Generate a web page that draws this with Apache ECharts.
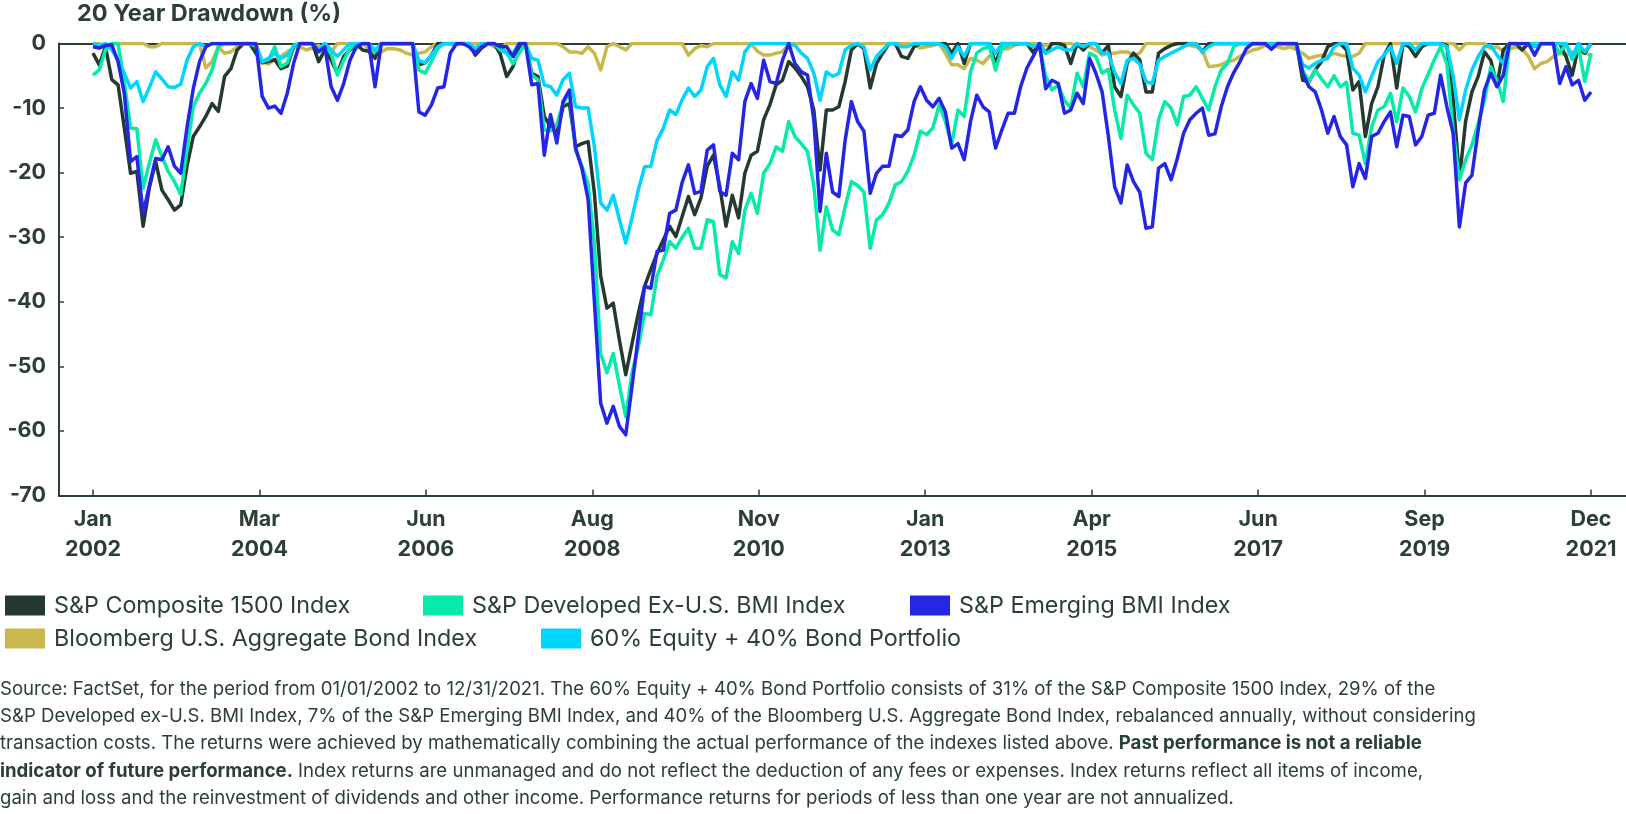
<!DOCTYPE html>
<html><head><meta charset="utf-8">
<script src="https://cdn.jsdelivr.net/npm/echarts@6/dist/echarts.min.js"></script>
<style>html,body{margin:0;padding:0;background:#fff}#c{width:1626px;height:814px}</style>
</head><body><div id="c"></div>
<script>
// ---- data (monthly drawdown %, Jan 2002 .. Dec 2021) ----
const tickLabels = ['Jan\n2002','Mar\n2004','Jun\n2006','Aug\n2008','Nov\n2010','Jan\n2013','Apr\n2015','Jun\n2017','Sep\n2019','Dec\n2021'];
const seriesNames = ['S&P Composite 1500 Index','S&P Developed Ex-U.S. BMI Index','S&P Emerging BMI Index','Bloomberg U.S. Aggregate Bond Index','60% Equity + 40% Bond Portfolio'];

const sp1500 = [
 -1.5,-3.3,-0.5,-5.6,-6.4,-13.1,-20.1,-19.8,-28.3,-22.3,-18.3,-22.7,
 -24.2,-25.8,-25.0,-19.0,-14.4,-12.9,-11.3,-9.3,-10.5,-5.1,-3.9,-1.0,
 0,0,-1.5,-3.0,-2.8,-2.5,-3.9,-3.5,-0.5,0,0,0,
 -2.8,-1.0,-2.6,-4.6,-2.0,-1.0,0,-1.0,-1.2,-2.3,0,0,
 0,0,0,0,-3.3,-3.0,-1.8,0,0,0,0,0,
 0,-1.8,-0.7,0,0,-1.7,-5.1,-3.6,-0.5,0,-4.6,-5.1,
 -11.3,-12.9,-13.9,-9.8,-9.3,-16.0,-15.5,-15.2,-23.2,-36.0,-41.0,-40.2,
 -46.0,-51.3,-46.5,-41.8,-37.6,-35.0,-32.5,-30.4,-28.3,-29.9,-26.8,-23.7,
 -26.5,-23.9,-19.0,-17.3,-22.2,-28.3,-23.5,-27.0,-20.1,-17.3,-16.7,-11.8,
 -9.5,-6.4,-5.7,-2.8,-3.8,-5.1,-6.7,-10.3,-19.6,-10.3,-10.3,-9.8,
 -5.9,-1.0,0,-0.8,-6.9,-3.1,-1.5,0,0,-2.0,-2.3,-0.5,
 0,0,0,0,0,-1.5,0,-3.1,0,0,0,0,
 -3.2,0,0,0,0,0,-1.4,0,-1.5,0,0,-0.3,
 -3.1,0,-1.0,0,0,-1.5,-0.3,-6.7,-8.2,-3.0,-1.5,-2.5,
 -7.5,-7.5,-1.5,-0.8,-0.3,0,0,0,0,-1.3,0,0,
 0,0,0,0,0,0,0,0,0,0,0,0,
 0,-5.7,-5.9,-4.1,-2.8,-0.5,0,0,-1.0,-7.2,-5.9,-14.4,
 -9.3,-6.7,-1.8,0,-6.9,0,-0.5,-2.0,-0.5,0,0,0,
 -0.3,-8.5,-21.0,-12.0,-7.5,-5.1,-1.3,-2.6,-6.4,-1.0,0,0,
 -1.0,0,0,0,0,0,0,-2.0,-4.9,-0.5,-1.5,0
];
const developedExUS = [
 -4.9,-4.1,-1.0,0,0,-6.0,-13.1,-13.2,-22.4,-18.5,-14.9,-17.5,
 -19.8,-21.4,-23.4,-16.5,-9.8,-7.7,-6.2,-4.1,-0.5,0,0,0,
 0,0,-0.5,-2.8,-2.5,-0.5,-3.6,-3.0,-0.3,0,0,0,
 -1.0,-0.5,-1.5,-4.9,-2.6,-0.8,0,0,0,-1.3,0,0,
 0,0,0,0,-4.1,-4.6,-2.8,-0.8,0,0,0,0,
 -0.3,-0.8,-0.3,0,0,-1.0,-1.5,-3.1,-1.5,0,-4.9,-5.6,
 -13.4,-13.5,-12.5,-9.3,-7.5,-16.5,-19.0,-21.7,-31.0,-48.0,-51.0,-48.0,
 -53.0,-57.8,-51.0,-47.0,-41.8,-42.0,-36.0,-33.5,-30.7,-31.7,-30.0,-28.6,
 -31.7,-31.7,-27.3,-27.6,-35.8,-36.3,-30.7,-32.5,-25.8,-23.2,-26.3,-20.1,
 -18.6,-16.0,-16.7,-12.1,-14.4,-15.5,-16.7,-22.0,-32.0,-25.3,-28.9,-29.6,
 -25.3,-21.4,-22.0,-23.0,-31.7,-27.3,-26.5,-24.7,-21.9,-21.4,-19.8,-17.3,
 -13.6,-14.1,-13.1,-9.5,-12.1,-15.7,-10.3,-11.3,-4.4,-1.5,-0.8,-0.5,
 -4.1,-0.8,-0.3,0,0,0,-0.3,-0.5,-5.0,-7.2,-6.4,-8.8,
 -10.0,-4.6,-6.7,-1.5,-2.0,-4.6,-4.0,-10.3,-14.7,-8.0,-9.5,-10.8,
 -17.0,-18.0,-11.8,-9.0,-10.0,-12.6,-8.2,-8.0,-6.7,-8.5,-10.3,-6.7,
 -4.1,-3.1,-0.5,0,0,0,0,0,0,0,0,0,
 -0.3,-4.1,-5.9,-4.1,-5.5,-6.7,-5.0,-6.7,-6.0,-13.9,-14.2,-18.6,
 -12.9,-10.3,-9.8,-7.7,-12.1,-6.9,-8.2,-10.6,-7.0,-4.8,-2.5,-0.5,
 -3.1,-13.4,-21.1,-18.0,-15.7,-12.4,-8.8,-3.6,-5.7,-9.0,0,0,
 0,0,0,0,0,0,-1.5,0,-2.5,-0.5,-5.9,-1.5
];
const emerging = [
 -0.5,-0.7,-0.3,-0.2,-2.8,-7.7,-18.3,-17.5,-26.3,-22.0,-17.8,-18.0,
 -16.0,-19.0,-20.1,-13.0,-7.0,-2.8,-0.5,0,0,0,0,0,
 0,0,0,-8.2,-10.0,-9.7,-10.8,-7.7,-3.1,0,0,0,
 -1.3,-0.5,-6.7,-8.8,-6.2,-2.6,-0.5,0,0,-6.7,0,0,
 0,0,0,0,-10.6,-11.1,-9.5,-6.9,-6.7,-1.5,0,0,
 -0.5,-1.5,-0.5,0,0,-0.5,-0.5,-2.0,0,0,-6.4,-6.2,
 -17.3,-11.0,-15.4,-9.0,-7.2,-16.2,-19.3,-24.2,-40.0,-55.7,-58.8,-56.2,
 -59.3,-60.6,-53.1,-45.4,-37.6,-37.9,-32.2,-32.0,-26.3,-25.8,-21.5,-18.8,
 -23.2,-22.9,-16.5,-15.7,-22.9,-23.5,-17.0,-18.0,-9.0,-6.2,-8.5,-2.6,
 -5.9,-6.2,-2.6,0,-3.1,-4.4,-4.9,-11.8,-26.0,-17.0,-23.0,-23.7,
 -15.0,-9.0,-12.1,-13.6,-23.2,-20.1,-19.0,-19.0,-14.2,-14.4,-13.4,-9.0,
 -6.7,-8.8,-9.8,-8.5,-10.6,-16.2,-15.5,-18.0,-12.1,-8.0,-9.8,-10.6,
 -16.2,-13.4,-10.8,-10.8,-6.7,-3.8,-2.0,0,-7.0,-5.7,-6.2,-10.8,
 -10.3,-7.7,-9.3,-2.3,-4.6,-7.5,-14.4,-22.2,-24.7,-18.8,-21.4,-23.0,
 -28.6,-28.4,-19.3,-18.6,-21.1,-17.8,-13.9,-11.8,-10.8,-10.0,-14.2,-14.0,
 -9.8,-6.7,-4.5,-2.8,-0.8,0,0,0,-0.9,0,0,0,
 0,-4.6,-6.7,-7.5,-10.3,-13.9,-11.3,-14.4,-15.7,-22.2,-18.6,-20.9,
 -14.4,-13.9,-12.1,-10.6,-16.0,-11.1,-11.3,-15.7,-14.4,-11.1,-10.8,-4.9,
 -9.8,-13.9,-28.4,-21.6,-20.4,-13.4,-7.2,-4.6,-6.7,-4.9,0,0,
 0,0,-1.8,0,0,0,-6.2,-3.6,-6.4,-5.7,-8.8,-7.5
];
const aggBond = [
 0,0,-0.5,0,0,0,0,0,0,-0.5,-0.5,0,
 0,0,0,0,0,0,-3.8,-2.8,-0.5,-1.5,-1.3,-0.5,
 0,0,0,-2.8,-3.2,-2.5,-2.0,-1.3,-0.8,-0.5,-1.0,-0.7,
 -0.3,-1.0,-1.3,0,0,0,-0.8,0,-0.8,-1.5,-1.3,-0.8,
 -0.8,-1.0,-1.5,-1.8,-1.5,-1.3,-0.5,0,0,0,0,0,
 0,0,0,0,-0.5,-0.8,0,0,0,0,0,0,
 0,0,0,-0.5,-1.3,-1.3,-1.5,-0.5,-1.5,-4.1,-0.5,0,
 -0.5,-1.0,0,0,0,0,0,0,0,0,0,-1.8,
 -0.8,-0.3,-0.5,0,0,0,0,0,0,0,-1.2,-1.8,
 -1.8,-1.5,-1.3,0,0,0,0,0,0,0,0,0,
 0,0,-0.3,0,0,0,0,0,0,0,0,-0.2,
 -0.7,-0.5,-0.3,0,-1.5,-3.3,-3.3,-3.9,-2.3,-2.6,-3.1,-2.0,
 -1.3,-0.8,-0.8,-0.3,0,0,0,0,-0.3,0,0,0,
 0,-0.5,-0.3,-0.5,-1.0,-1.8,-1.5,-1.5,-1.3,-1.3,-1.8,-1.5,
 0,0,0,0,0,0,0,-0.3,-0.5,-1.0,-3.6,-3.5,
 -3.3,-2.8,-2.6,-2.0,-1.5,-1.0,-0.8,-0.3,-0.5,-0.5,-0.8,-0.5,
 -1.0,-1.5,-2.3,-2.0,-1.8,-2.0,-1.5,-1.8,-2.0,-2.0,-1.5,0,
 0,0,0,0,0,0,0,0,0,0,0,0,
 0,0,-1.0,0,0,0,0,-0.8,-0.5,-1.2,-0.8,-0.6,
 -0.8,-2.0,-3.9,-3.1,-2.8,-2.0,-1.5,-1.8,-1.3,-1.3,-1.5,-1.8
];
const portfolio6040 = [
 0,-0.3,0,-1.0,-2.5,-4.6,-6.9,-5.9,-9.0,-6.8,-4.4,-5.5,
 -6.7,-6.8,-6.3,-2.6,-0.5,0,-0.5,0,0,0,0,0,
 0,0,-0.3,-2.8,-2.3,-1.5,-2.3,-1.8,-0.5,0,0,0,
 -1.0,0,-1.0,-2.0,-1.0,0,0,0,0,-1.0,0,0,
 0,0,0,0,-2.6,-3.0,-1.8,-0.5,0,0,0,0,
 0,-0.8,0,0,0,-0.5,-1.5,-1.5,0,0,-2.3,-2.6,
 -6.4,-6.7,-8.0,-5.6,-4.6,-9.8,-10.0,-10.0,-16.0,-24.7,-25.8,-23.5,
 -27.3,-30.9,-27.0,-22.7,-19.1,-19.0,-15.0,-13.1,-10.3,-11.0,-8.7,-6.9,
 -8.2,-7.2,-3.6,-2.3,-6.4,-8.2,-4.4,-5.7,-1.3,0,0,0,
 0,0,0,0,-0.3,-1.5,-2.3,-4.6,-8.8,-4.4,-5.1,-4.6,
 -1.0,-0.3,0,-0.5,-4.1,-2.0,-1.0,0,0,-0.5,-0.5,0,
 0,0,0,0,-0.5,-2.3,-0.5,-2.0,0,0,0,0,
 -1.5,0,0,0,0,0,-0.5,0,-1.5,-1.0,-0.5,-1.0,
 -1.0,0,-0.5,0,0,-1.5,-1.5,-4.5,-6.2,-2.6,-2.3,-3.2,
 -5.9,-6.2,-2.6,-2.0,-1.5,-1.0,-0.5,0,0,-1.3,-0.5,0,
 0,0,0,0,0,0,0,0,0,0,0,0,
 0,-3.3,-3.8,-3.1,-2.6,-2.3,-0.5,0,0,-3.8,-4.9,-7.5,
 -5.1,-2.8,-1.8,-0.5,-3.1,0,0,-1.0,0,0,0,0,
 -0.5,-5.0,-11.8,-7.2,-4.1,-2.0,-0.5,-0.3,-1.8,-3.1,0,0,
 0,0,-0.5,0,0,0,0,0,-2.0,0,-1.3,0
];

// ---- chart ----
const TXT = '#2b3f35';
const FONT = 'Inter, "Noto Sans", sans-serif';
const colors = ['#243a30','#06eaaa','#2525e6','#c9b84e','#00d5ff'];
const lastIdx = sp1500.length - 1;
const tickPos = tickLabels.map((_, j) => j * lastIdx / (tickLabels.length - 1));
const toPts = arr => arr.map((v, i) => [i, v]);
const allData = [sp1500, developedExUS, emerging, aggBond, portfolio6040];
const drawOrder = [3, 0, 1, 4, 2];

const chart = echarts.init(document.getElementById('c'), null, {renderer: 'canvas'});
const axisLineStyle = {color: TXT, width: 2};
const series = drawOrder.map(k => ({
  name: seriesNames[k], type: 'line', data: toPts(allData[k]),
  showSymbol: false, symbol: 'none', lineStyle: {color: colors[k], width: 3.5, join: 'round'},
  itemStyle: {color: colors[k]}, z: 2 + drawOrder.indexOf(k), animation: false
}));

const footLines = [
 [{t:'Source: FactSet, for the period from 01/01/2002 to 12/31/2021. The 60% Equity + 40% Bond Portfolio consists of 31% of the S&P Composite 1500 Index, 29% of the'}],
 [{t:'S&P Developed ex-U.S. BMI Index, 7% of the S&P Emerging BMI Index, and 40% of the Bloomberg U.S. Aggregate Bond Index, rebalanced annually, without considering'}],
 [{t:'transaction costs. The returns were achieved by mathematically combining the actual performance of the indexes listed above. '},{t:'Past performance is not a reliable', b:true}],
 [{t:'indicator of future performance.', b:true},{t:' Index returns are unmanaged and do not reflect the deduction of any fees or expenses. Index returns reflect all items of income,'}],
 [{t:'gain and loss and the reinvestment of dividends and other income. Performance returns for periods of less than one year are not annualized.'}]
];
const footY = [692, 719, 746, 774, 801];
const graphics = footLines.map((segs, i) => ({
  type: 'text', left: 0, top: footY[i] - 12,
  style: {
    text: segs.map(s => s.b ? '{b|' + s.t + '}' : '{n|' + s.t + '}').join(''),
    rich: {
      n: {fontSize: 18.6, fontFamily: FONT, fill: TXT, fontWeight: 400},
      b: {fontSize: 18.6, fontFamily: FONT, fill: TXT, fontWeight: 700}
    }
  }
}));
graphics.push({type: 'text', left: 77, top: 2, style: {text: '20 Year Drawdown (%)', fontSize: 23.5, fontWeight: 700, fontFamily: FONT, fill: TXT}});

// one legend component per item so each sits where the reference puts it
const legendPos = [[0, 589], [418, 589], [905, 589], [0, 622], [536, 622]];
const legends = seriesNames.map((nm, k) => ({
  data: [nm], left: legendPos[k][0], top: legendPos[k][1],
  icon: 'rect', itemWidth: 40, itemHeight: 20, selectedMode: false,
  textStyle: {fontSize: 23.3, color: TXT, fontFamily: FONT, fontWeight: 400, padding: [0, 0, 0, 4]}
}));

chart.setOption({
  animation: false,
  color: colors,
  grid: {left: 59, right: 0, top: 43.5, bottom: 318.5, containLabel: false},
  xAxis: [{
    type: 'value', min: -5.42, max: 244.58, position: 'bottom',
    axisLine: {show: true, onZero: false, lineStyle: axisLineStyle},
    axisTick: {show: true, inside: true, length: 6, customValues: tickPos, lineStyle: {color: TXT, width: 1.5}},
    axisLabel: {customValues: tickPos, formatter: v => tickLabels[Math.round(v * (tickLabels.length - 1) / lastIdx)],
      fontSize: 21.5, lineHeight: 30, fontWeight: 700, color: TXT, fontFamily: FONT, margin: 9, align: 'center'},
    splitLine: {show: false}
  }, {
    type: 'value', min: -5.42, max: 244.58, position: 'top',
    axisLine: {show: true, onZero: false, lineStyle: axisLineStyle},
    axisTick: {show: false}, axisLabel: {show: false}, splitLine: {show: false}
  }],
  yAxis: {
    type: 'value', min: -70, max: 0, interval: 10,
    axisLine: {show: true, onZero: false, lineStyle: axisLineStyle},
    axisTick: {show: true, inside: true, length: 5, lineStyle: {color: TXT, width: 1.5}},
    axisLabel: {fontSize: 21.5, fontWeight: 700, color: TXT, fontFamily: FONT, margin: 13},
    splitLine: {show: false}
  },
  legend: legends,
  series: series,
  graphic: graphics
});
</script></body></html>
